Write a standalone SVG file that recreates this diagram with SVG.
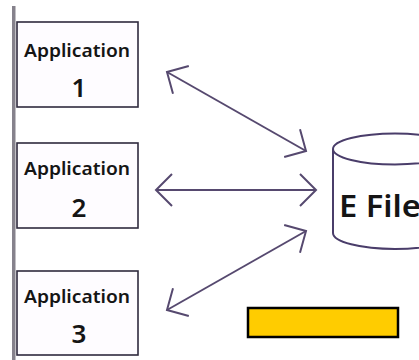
<svg xmlns="http://www.w3.org/2000/svg" width="419" height="360" viewBox="0 0 419 360">
  <style>
    .box { fill: #fefcff; stroke: #2f2a3e; stroke-width: 1.6; }
    .lbl { font-family: "Noto Sans", "Liberation Sans", sans-serif; font-weight: 600; fill: #151515; text-anchor: middle; }
    .app { font-size: 17px; }
    .num { font-size: 26px; }
    .link { fill: none; stroke: #56496f; stroke-width: 2; marker-start: url(#chev); marker-end: url(#chev); }
    .db { fill: #ffffff; stroke: #4a3d6a; stroke-width: 2; }
  </style>
  <defs>
    <marker id="chev" markerUnits="userSpaceOnUse" viewBox="-20 -20 24 40" refX="0" refY="0" markerWidth="24" markerHeight="40" orient="auto-start-reverse" overflow="visible">
      <path d="M-16,-16 L0,0 L-16,16" fill="none" stroke="#56496f" stroke-width="2" stroke-linejoin="miter"/>
    </marker>
  </defs>

  <rect x="0" y="0" width="419" height="360" fill="#ffffff"/>
  <!-- left page margin rule -->
  <rect x="12" y="6" width="3.5" height="354" fill="#86828c"/>

  <g id="app1">
    <rect class="box" x="17" y="22" width="121" height="85"/>
    <text class="lbl app" x="77" y="57" textLength="106" lengthAdjust="spacingAndGlyphs">Application</text>
    <text class="lbl num" x="79" y="97">1</text>
  </g>
  <g id="app2">
    <rect class="box" x="17" y="143" width="121" height="85"/>
    <text class="lbl app" x="77" y="175" textLength="106" lengthAdjust="spacingAndGlyphs">Application</text>
    <text class="lbl num" x="79" y="217">2</text>
  </g>
  <g id="app3">
    <rect class="box" x="17" y="271" width="121" height="84"/>
    <text class="lbl app" x="77" y="303" textLength="106" lengthAdjust="spacingAndGlyphs">Application</text>
    <text class="lbl num" x="79" y="343">3</text>
  </g>

  <g id="efile">
    <path class="db" d="M333,149 L333,233 A62,16 0 0 0 457,233 L457,149"/>
    <ellipse class="db" cx="395" cy="149" rx="62" ry="15.5"/>
    <text x="339" y="217" font-family="Noto Sans, Liberation Sans, sans-serif" font-weight="600" font-size="30" fill="#151515" textLength="82" lengthAdjust="spacingAndGlyphs">E File</text>
  </g>

  <g id="bar">
    <rect x="248" y="308" width="150" height="29" fill="#ffcc00" stroke="#000000" stroke-width="2.5"/>
  </g>

  <g id="connectors">
    <line class="link" x1="167" y1="72" x2="306" y2="151"/>
    <line class="link" x1="156" y1="190" x2="316" y2="190"/>
    <line class="link" x1="167" y1="310" x2="306" y2="231"/>
  </g>
</svg>
